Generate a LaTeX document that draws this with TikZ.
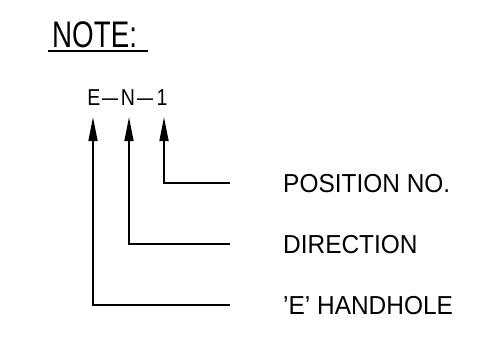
\documentclass[tikz,border=0pt]{standalone}
\usepackage{fontspec}
\setmainfont{Liberation Sans}
\usetikzlibrary{arrows.meta}
\begin{document}
\begin{tikzpicture}[x=1pt,y=-1pt,
  lbl/.style={inner sep=0pt, anchor=base west, font=\fontsize{26}{26}\selectfont},
  code/.style={inner sep=0pt, anchor=base, font=\fontsize{23}{23}\selectfont},
  lead/.style={line width=1.7pt, -{Triangle[length=24pt,width=9pt]}},
]
\useasboundingbox (0,0) rectangle (485,348);
% heading
\node[inner sep=0pt, anchor=base west, font=\fontsize{37}{37}\selectfont] (note) at (52,47) {\scalebox{0.75}[1]{NOTE:}};
\draw[line width=1.7pt] ([xshift=-4pt,yshift=-4pt]note.base west) -- ([xshift=11pt,yshift=-4pt]note.base east);
% code
\node[code] (cE) at (94,105) {\scalebox{0.85}[1]{E}};
\node[code] (d1) at (110,105) {\scalebox{1.25}[1]{–}};
\node[code] (cN) at (128,105) {\scalebox{0.85}[1]{N}};
\node[code] (d2) at (145,105) {\scalebox{1.25}[1]{–}};
\node[code] (c1) at (162,105) {\scalebox{0.85}[1]{1}};
% labels
\node[lbl] (pos) at (283,192) {\scalebox{0.94}[1]{POSITION NO.}};
\node[lbl] (dir) at (283,253) {\scalebox{0.94}[1]{DIRECTION}};
\node[lbl] (hh) at (283,314) {\scalebox{0.94}[1]{'E' HANDHOLE}};
% arrow tips
\coordinate (tE) at (93,117);
\coordinate (tN) at (129,117);
\coordinate (t1) at (164,117);
% leaders
\draw[lead] ([xshift=-53pt]pos.west) -| (t1);
\draw[lead] ([xshift=-53pt]dir.west) -| (tN);
\draw[lead] ([xshift=-53pt]hh.west) -| (tE);
\end{tikzpicture}
\end{document}
